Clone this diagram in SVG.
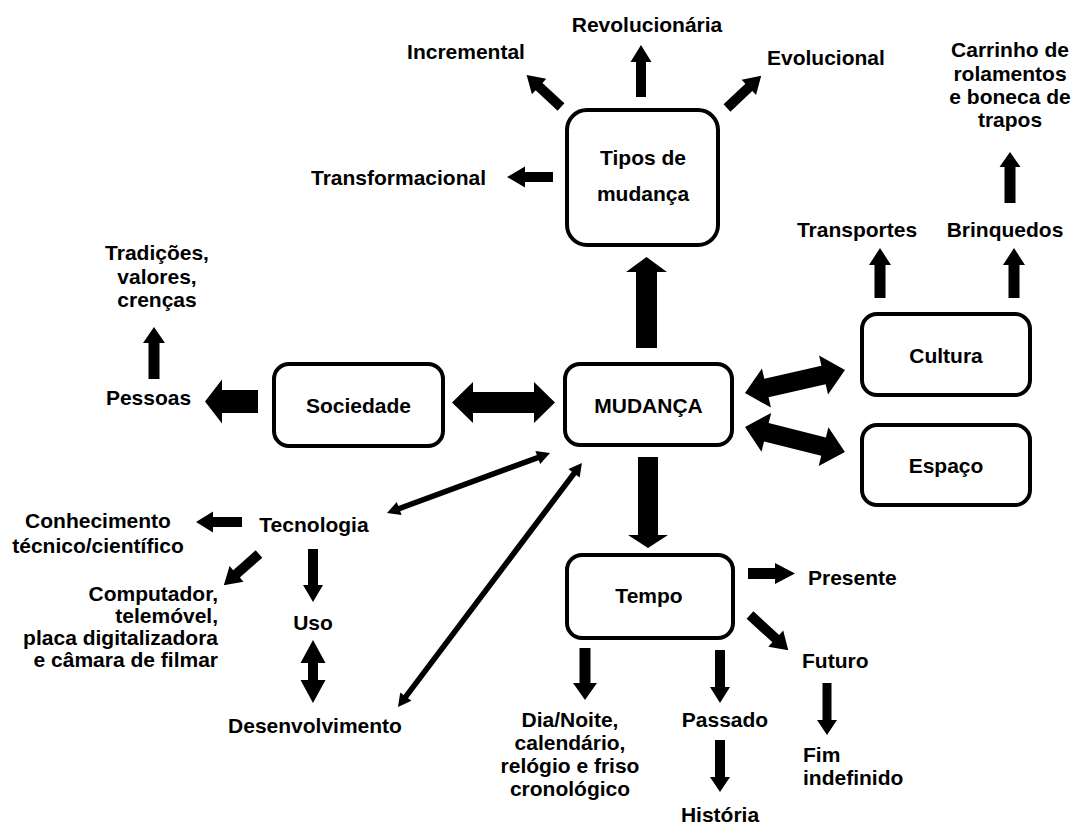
<svg xmlns="http://www.w3.org/2000/svg" width="1076" height="825" viewBox="0 0 1076 825">
<style>
text{font-family:"Liberation Sans",Arial,Helvetica,sans-serif;font-weight:bold;font-size:21px;fill:#000}
.c{text-anchor:middle}
.r{text-anchor:end}
.box{fill:#fff;stroke:#000;stroke-width:4}
.a{fill:#000;stroke:none}
</style>
<rect width="1076" height="825" fill="#fff"/>
<g id="connectors" class="a">
<polygon transform="translate(641,97) rotate(-90)" points="0,-5 35,-5 35,-10.5 52,0 35,10.5 35,5 0,5"/>
<polygon transform="translate(561,107) rotate(-137)" points="0,-5 30,-5 30,-10.5 47,0 30,10.5 30,5 0,5"/>
<polygon transform="translate(727,108) rotate(-43.3)" points="0,-5 30,-5 30,-10.5 47,0 30,10.5 30,5 0,5"/>
<polygon transform="translate(553,177) rotate(180)" points="0,-5 28,-5 28,-10.5 46,0 28,10.5 28,5 0,5"/>
<polygon transform="translate(880,298) rotate(-90)" points="0,-5.5 33,-5.5 33,-11 50,0 33,11 33,5.5 0,5.5"/>
<polygon transform="translate(1014,298) rotate(-90)" points="0,-5.5 33,-5.5 33,-11 50,0 33,11 33,5.5 0,5.5"/>
<polygon transform="translate(1010,203) rotate(-90)" points="0,-5.5 36,-5.5 36,-10.5 51,0 36,10.5 36,5.5 0,5.5"/>
<polygon transform="translate(154,379) rotate(-90)" points="0,-5.5 36,-5.5 36,-11 52,0 36,11 36,5.5 0,5.5"/>
<polygon transform="translate(242,522) rotate(180)" points="0,-5 29,-5 29,-10.5 46,0 29,10.5 29,5 0,5"/>
<polygon transform="translate(259,554) rotate(138.5)" points="0,-5 30,-5 30,-10.5 47,0 30,10.5 30,5 0,5"/>
<polygon transform="translate(313,549) rotate(90)" points="0,-5 36,-5 36,-10 53,0 36,10 36,5 0,5"/>
<polygon transform="translate(313,640) rotate(90)" points="0,0 23,-12.5 23,-5 40,-5 40,-12.5 63,0 40,12.5 40,5 23,5 23,12.5"/>
<polygon transform="translate(748,573.5)" points="0,-5.5 27,-5.5 27,-10.5 47,0 27,10.5 27,5.5 0,5.5"/>
<polygon transform="translate(750,615) rotate(42.6)" points="0,-5 35,-5 35,-11 52,0 35,11 35,5 0,5"/>
<polygon transform="translate(827,683) rotate(90)" points="0,-4.5 37,-4.5 37,-10 52,0 37,10 37,4.5 0,4.5"/>
<polygon transform="translate(585,648) rotate(90)" points="0,-5.5 35,-5.5 35,-12 52,0 35,12 35,5.5 0,5.5"/>
<polygon transform="translate(720,650) rotate(90)" points="0,-5 37,-5 37,-10 53,0 37,10 37,5 0,5"/>
<polygon transform="translate(720,740) rotate(90)" points="0,-5 37,-5 37,-10 52,0 37,10 37,5 0,5"/>
<polygon transform="translate(646.5,348) rotate(-90)" points="0,-10.5 76,-10.5 76,-20.5 91,0 76,20.5 76,10.5 0,10.5"/>
<polygon transform="translate(648,457) rotate(90)" points="0,-10 78,-10 78,-20 91,0 78,20 78,10 0,10"/>
<polygon transform="translate(258,401.5) rotate(180)" points="0,-11.5 36,-11.5 36,-22 53,0 36,22 36,11.5 0,11.5"/>
<polygon transform="translate(452,402.5)" points="0,0 21,-20.5 21,-10.5 82,-10.5 82,-20.5 103,0 82,20.5 82,10.5 21,10.5 21,20.5"/>
<polygon transform="translate(745,393) rotate(-12.95)" points="0,0 22,-20 22,-9.5 80.6,-9.5 80.6,-20 102.6,0 80.6,20 80.6,9.5 22,9.5 22,20"/>
<polygon transform="translate(745,427) rotate(14.04)" points="0,0 22,-20 22,-9.5 81,-9.5 81,-20 103,0 81,20 81,9.5 22,9.5 22,20"/>
<polygon transform="translate(387,513) rotate(-20.2)" points="0,0 13,-7 13,-2.8 160.7,-2.8 160.7,-7 173.7,0 160.7,7 160.7,2.8 13,2.8 13,7"/>
<polygon transform="translate(398,707) rotate(-53)" points="0,0 13,-7 13,-2.8 292.6,-2.8 292.6,-7 305.6,0 292.6,7 292.6,2.8 13,2.8 13,7"/>
</g>
<g id="tipos"><rect class="box" x="567" y="110" width="151" height="135" rx="20"/><text class="c" x="643" y="165">Tipos de</text><text class="c" x="643" y="201">mudança</text></g>
<g id="mudanca"><rect class="box" x="565" y="364" width="167" height="81" rx="15"/><text class="c" x="648.5" y="413">MUDANÇA</text></g>
<g id="tempo"><rect class="box" x="567" y="555" width="166" height="83" rx="15"/><text class="c" x="649" y="603">Tempo</text></g>
<g id="sociedade"><rect class="box" x="274" y="364" width="169" height="82" rx="15"/><text class="c" x="358.5" y="413">Sociedade</text></g>
<g id="cultura"><rect class="box" x="862" y="314" width="168" height="81" rx="15"/><text class="c" x="946" y="363">Cultura</text></g>
<g id="espaco"><rect class="box" x="862" y="425" width="168" height="80" rx="15"/><text class="c" x="946" y="473">Espaço</text></g>
<g id="revolucionaria"><text class="c" x="647" y="32">Revolucionária</text></g>
<g id="incremental"><text class="c" x="466" y="59">Incremental</text></g>
<g id="evolucional"><text x="767" y="65">Evolucional</text></g>
<g id="transformacional"><text class="c" x="398.5" y="185">Transformacional</text></g>
<g id="carrinho"><text class="c" x="1010" y="57">Carrinho de</text><text class="c" x="1010" y="80.5">rolamentos</text><text class="c" x="1010" y="104">e boneca de</text><text class="c" x="1010" y="127">trapos</text></g>
<g id="transportes"><text class="c" x="857" y="237">Transportes</text></g>
<g id="brinquedos"><text class="c" x="1005" y="237">Brinquedos</text></g>
<g id="tradicoes"><text class="c" x="157" y="260">Tradições,</text><text class="c" x="157" y="283.5">valores,</text><text class="c" x="157" y="307">crenças</text></g>
<g id="pessoas"><text class="c" x="148.5" y="405">Pessoas</text></g>
<g id="tecnologia"><text class="c" x="314" y="532">Tecnologia</text></g>
<g id="conhecimento"><text class="c" x="98" y="528">Conhecimento</text><text class="c" x="98" y="553">técnico/científico</text></g>
<g id="computador"><text class="r" x="218" y="601">Computador,</text><text class="r" x="218" y="623">telemóvel,</text><text class="r" x="218" y="645">placa digitalizadora</text><text class="r" x="218" y="667">e câmara de filmar</text></g>
<g id="uso"><text class="c" x="313" y="630">Uso</text></g>
<g id="desenvolvimento"><text class="c" x="315" y="733">Desenvolvimento</text></g>
<g id="presente"><text x="808" y="585">Presente</text></g>
<g id="futuro"><text x="802" y="668">Futuro</text></g>
<g id="fim"><text x="803" y="762">Fim</text><text x="803" y="785">indefinido</text></g>
<g id="dianoite"><text class="c" x="570" y="727">Dia/Noite,</text><text class="c" x="570" y="750">calendário,</text><text class="c" x="570" y="773">relógio e friso</text><text class="c" x="570" y="796">cronológico</text></g>
<g id="passado"><text class="c" x="725" y="727">Passado</text></g>
<g id="historia"><text class="c" x="720" y="822">História</text></g>
</svg>
